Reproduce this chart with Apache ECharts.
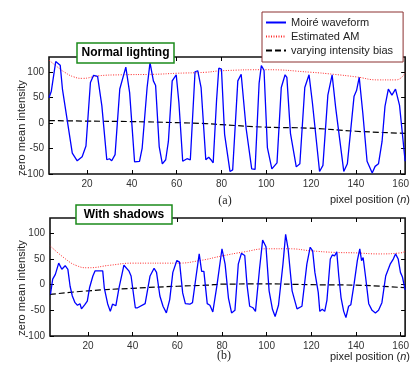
<!DOCTYPE html>
<html>
<head>
<meta charset="utf-8">
<script src="https://cdn.jsdelivr.net/npm/echarts@6/dist/echarts.min.js"></script>
<style>
  html, body { margin: 0; padding: 0; background: #fff; }
  #chart { width: 412px; height: 367px; }
</style>
</head>
<body>
<div id="chart"></div>
<script>
// axis extents and ticks
var xRange = [3, 162]
var yRange = [-100, 130]
var xTicks = [20, 40, 60, 80, 100, 120, 140, 160]
var yTicks = [-100, -50, 0, 50, 100]

// (a) normal lighting: [pixel position, value]
var topWave = [
  [3, 50], [4, 62], [6, 121], [8, 114], [9, 67], [13.4, -59], [15.6, -74], [17.8, -66],
  [19.5, -45], [21.5, 80], [22.9, 94], [24.7, 92], [26.6, 34], [28.8, -72], [30, -70],
  [31, -74], [32.5, -62], [34.6, 67], [37.3, 110], [39, 60], [41.2, -76], [43.4, -75],
  [44.6, -49], [46.8, 70], [48.1, 119], [49.6, 83], [50.6, 74], [52.2, -46], [53.6, -80],
  [55.1, -72], [56.3, -36], [58, 83], [59.8, 95], [61, 40], [62.7, -75], [64.6, -70],
  [66.1, -72], [68.2, 101], [69.4, 103], [70.9, 70], [73, -72], [74.3, -67], [75.5, -73],
  [76.3, -78], [77.8, 44], [78.8, 108], [80, 106], [81.4, -22], [83.8, -95], [85, -92],
  [87.3, 83], [88.8, 96], [89.6, 94], [91, -10], [93.5, -90], [95, -91], [96.8, 78],
  [97.8, 113], [99, 104], [100.5, -48], [102.5, -90], [104.8, -78], [106.7, 70],
  [108.4, 95], [109.2, 90], [110.8, -20], [113.4, -86], [115, -80], [117.2, 70],
  [119.1, 95], [120.6, 40], [123.8, -95], [125.3, -83], [127.5, 55], [129.4, 95],
  [131, 30], [134.6, -95], [136.2, -80], [139.2, 53], [140.3, 64], [141.5, 90],
  [143.1, 20], [145, -75], [147.3, -98], [148.6, -85], [150.1, -80], [151.7, -36],
  [153, 33], [154.5, 67], [156.1, 55], [157.7, 67], [159.5, 35], [162, -75]
]
var topAM = [
  [3, 124], [6, 113], [10, 100], [14, 91], [18, 88], [25, 93], [35, 95], [50, 96],
  [60, 98], [73, 100], [80, 103], [100, 105], [120, 100], [130, 96], [140, 91],
  [150, 85], [158, 85], [162, 99]
]
var topBias = [
  [3, 5], [20, 4], [40, 3], [60, 1], [73, -1], [80, -3], [100, -8], [120, -10],
  [140, -16], [162, -20]
]

// (b) with shadows
var botWave = [
  [3.2, -19], [4.2, 11], [5.4, 20], [6.9, 42], [8.3, 30], [9.8, 37], [11, 30], [12, -3],
  [13, -22], [14.2, -35], [15.3, -40], [16.4, -37], [17.1, -47], [18.6, -39], [19.7, -32],
  [20.7, -6], [22.2, 17], [23.2, 27], [26.6, 27], [27.3, -6], [28.8, -37], [30, -52],
  [31, -38], [32.5, -41], [33.9, -6], [36.1, 38], [36.8, 40], [38.3, 27], [39.3, 17],
  [41.2, -45], [42.2, -45], [45.6, -37], [47.8, 17], [49.6, 32], [50.7, 24], [52.2, -22],
  [53.6, -42], [55.1, -55], [56.6, -29], [58, 24], [59.8, 47], [61, 44], [62.4, -16],
  [63.6, -37], [65.6, -38], [66.8, -35], [68.3, 13], [69.8, 60], [70.9, 26], [71.9, 26],
  [73.4, -37], [74.6, -40], [75.9, -53], [77.8, 0], [80, 70], [81.4, 40], [82.9, -26],
  [84.3, -55], [85.8, -50], [87.3, 40], [88.7, 61], [90.2, 57], [91.2, 0], [92.4, -42],
  [93.9, -45], [95, -52], [96.8, 30], [98.2, 87], [99.7, 74], [101.1, -12], [102.6, -48],
  [103.8, -62], [105.3, -40], [107.3, 40], [108.5, 98], [109.6, 70], [111.4, -12],
  [113.6, -47], [115.8, -42], [118, 40], [119.5, 73], [120.6, 66], [121.6, 24],
  [123.1, -15], [123.8, -52], [124.9, -48], [126, -52], [127, -30], [128.5, 50],
  [129.4, 58], [130.4, 56], [131.4, 64], [132.3, 17], [133.3, -25], [134.5, -52],
  [135.5, -64], [136.7, -42], [137.7, -39], [139.2, 3], [140.6, 47], [141.7, 70],
  [142.5, 47], [143.2, 53], [144.3, 15], [145.7, -37], [147.2, -50], [148.7, -55],
  [150.1, -50], [151.6, -35], [153.3, 17], [155.3, 40], [156.7, 50], [157.7, 60],
  [158.9, 50], [159.9, 24], [160.8, 15], [162, -10]
]
var botAM = [
  [3, 76], [10, 50], [15, 37], [20, 33], [30, 38], [40, 42], [60, 42], [70, 47],
  [80, 56], [90, 64], [100, 70], [110, 70], [120, 66], [130, 63], [140, 62],
  [150, 60], [160, 62], [162, 65]
]
var botBias = [
  [3, -19], [20, -12], [40, -7], [60, -3], [73, -1], [80, 1], [100, 1.5], [120, 0],
  [140, -1], [162, -6]
]

var seriesNames = ['Moiré waveform', 'Estimated AM', 'varying intensity bias']

var fontFamily = 'Liberation Sans, Arial, sans-serif'
var chart = echarts.init(document.getElementById('chart'), null, { renderer: 'canvas' })

function xAx(gridIndex, top) {
  return {
    type: 'value', gridIndex: gridIndex, position: top ? 'top' : 'bottom',
    min: xRange[0], max: xRange[1],
    axisLine: { show: false, onZero: false },
    axisTick: { show: true, inside: true, length: 4, customValues: xTicks, lineStyle: { color: '#000', width: 1 } },
    axisLabel: { show: !top, customValues: xTicks, color: '#333', fontSize: 10, fontFamily: fontFamily, margin: 5 },
    splitLine: { show: false }
  }
}
function yAx(gridIndex, right) {
  return {
    type: 'value', gridIndex: gridIndex, position: right ? 'right' : 'left',
    min: yRange[0], max: yRange[1],
    axisLine: { show: false, onZero: false },
    axisTick: { show: true, inside: true, length: 4, customValues: yTicks, lineStyle: { color: '#000', width: 1 } },
    axisLabel: { show: !right, customValues: yTicks, color: '#333', fontSize: 10, fontFamily: fontFamily, margin: 5 },
    splitLine: { show: false }
  }
}
function lines(xi, yi, wave, am, bias) {
  return [
    { name: seriesNames[0], type: 'line', xAxisIndex: xi, yAxisIndex: yi, data: wave, symbol: 'none',
      lineStyle: { color: '#0000ff', width: 1.3 }, itemStyle: { color: '#0000ff' }, z: 3 },
    { name: seriesNames[1], type: 'line', xAxisIndex: xi, yAxisIndex: yi, data: am, symbol: 'none', smooth: true,
      lineStyle: { color: '#ff2a2a', width: 1, type: [1, 1.5] }, itemStyle: { color: '#ff2a2a' }, z: 2 },
    { name: seriesNames[2], type: 'line', xAxisIndex: xi, yAxisIndex: yi, data: bias, symbol: 'none', smooth: true,
      lineStyle: { color: '#000', width: 1.2, type: [6, 3] }, itemStyle: { color: '#000' }, z: 2 }
  ]
}

function titleBox(cx, cy, w, h, text) {
  return {
    type: 'group', z: 100,
    children: [
      { type: 'rect', z: 100, shape: { x: cx - w / 2, y: cy - h / 2, width: w, height: h },
        style: { fill: '#fff', stroke: '#1b8a1b', lineWidth: 1.5 } },
      { type: 'text', z: 101, x: cx, y: cy,
        style: { text: text, fill: '#000', font: 'bold 12px ' + fontFamily, align: 'center', verticalAlign: 'middle' } }
    ]
  }
}
function plainText(x, y, text, font, rotation, align) {
  return { type: 'text', x: x, y: y, rotation: rotation || 0, z: 100,
    style: { text: text, fill: '#222', font: font, align: align || 'center', verticalAlign: 'middle' } }
}

chart.setOption({
  animation: false,
  backgroundColor: '#fff',
  grid: [
    { left: 49, top: 57, width: 362, height: 117, show: true, borderColor: '#111', borderWidth: 1.6 },
    { left: 50, top: 218, width: 361, height: 118, show: true, borderColor: '#111', borderWidth: 1.6 }
  ],
  xAxis: [xAx(0, false), xAx(0, true), xAx(1, false), xAx(1, true)],
  yAxis: [yAx(0, false), yAx(0, true), yAx(1, false), yAx(1, true)],
  legend: {
    data: seriesNames,
    orient: 'vertical',
    left: 262, top: 12,
    padding: [5, 10, 6, 3],
    itemGap: 3,
    itemWidth: 20, itemHeight: 12,
    itemStyle: { opacity: 0 },
    backgroundColor: '#fff',
    borderColor: '#8b3030', borderWidth: 1,
    textStyle: { fontSize: 11, fontFamily: fontFamily, color: '#222', padding: [0, 0, 0, 0] },
    selectedMode: false,
    z: 50
  },
  series: lines(0, 0, topWave, topAM, topBias).concat(lines(2, 2, botWave, botAM, botBias)),
  graphic: [
    titleBox(125.5, 53, 97, 20, 'Normal lighting'),
    titleBox(124, 214.5, 96, 19, 'With shadows'),
    plainText(22, 128, 'zero mean intensity', '11px ' + fontFamily, Math.PI / 2),
    plainText(22, 288, 'zero mean intensity', '11px ' + fontFamily, Math.PI / 2),
    { type: 'text', x: 410, y: 200, z: 100,
      style: { rich: { r: { font: '11px ' + fontFamily, fill: '#222' }, i: { font: 'italic 11px ' + fontFamily, fill: '#222' } },
        text: '{r|pixel position (}{i|n}{r|)}', align: 'right', verticalAlign: 'middle' } },
    { type: 'text', x: 410, y: 357, z: 100,
      style: { rich: { r: { font: '11px ' + fontFamily, fill: '#222' }, i: { font: 'italic 11px ' + fontFamily, fill: '#222' } },
        text: '{r|pixel position (}{i|n}{r|)}', align: 'right', verticalAlign: 'middle' } },
    plainText(225, 201, '(a)', '12px Liberation Serif, Times New Roman, serif'),
    plainText(224, 356, '(b)', '12px Liberation Serif, Times New Roman, serif')
  ]
})
</script>
</body>
</html>
